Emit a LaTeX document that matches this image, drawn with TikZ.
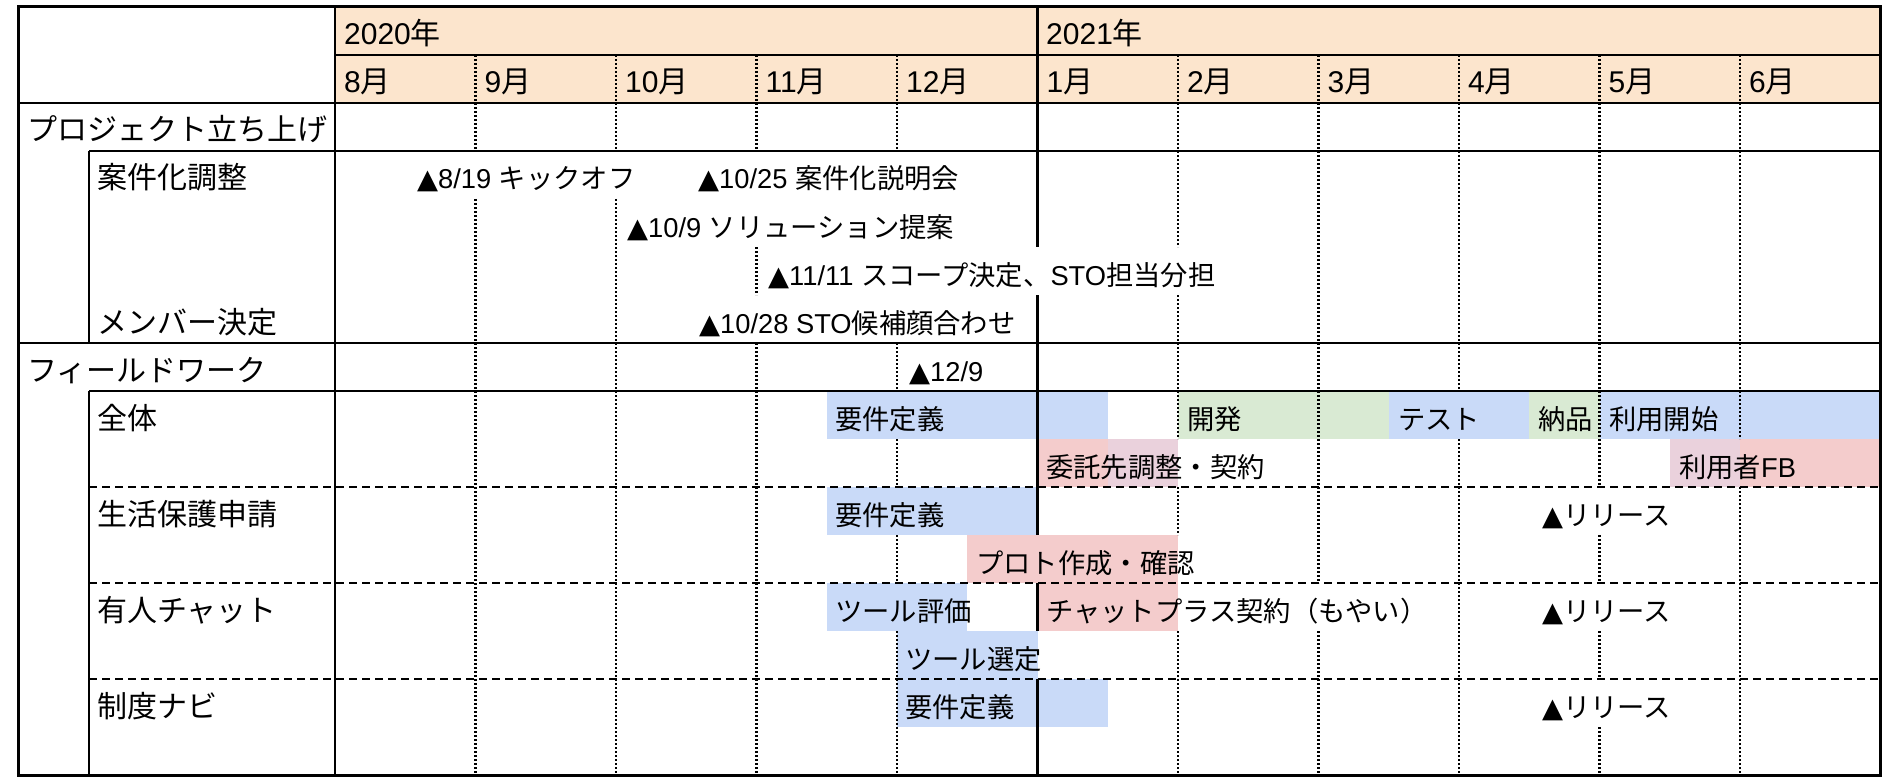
\documentclass[tikz,border=0pt]{standalone}
\usepackage{fontspec}
\setmainfont{Liberation Sans}
\newfontfamily\jp{Noto Sans CJK JP}
\newfontfamily\trifont{DejaVu Sans}
\definecolor{hdr}{HTML}{FCE5CD}
\definecolor{cblue}{HTML}{C9DAF8}
\definecolor{cgreen}{HTML}{D9EAD3}
\definecolor{cpink}{HTML}{F4CCCC}
\definecolor{cmag}{HTML}{EAD1DC}
\newcommand\mtri{{\trifont ▲}}
\newcommand\MX[1]{335+140.5*(#1)}
\newcommand\RT[1]{7+48*(#1)}
\newcommand\BL[1]{45+48*(#1)}
\newcommand\gbar[4]{\fill[#1] (#2,{\RT{#4}}) rectangle (#3,{\RT{#4+1}});}
\begin{document}
\begin{tikzpicture}[x=1pt,y=-1pt,
  txt/.style={anchor=base west, inner sep=0pt, font=\fontsize{30}{36}\selectfont},
  btxt/.style={anchor=base west, inner sep=0pt, font=\fontsize{27.3}{33}\selectfont},
  solidln/.style={line width=2.5pt},
  outerln/.style={line width=3pt},
  dotln/.style={line width=2.2pt, dash pattern=on 2pt off 2pt},
  dashln/.style={line width=2.5pt, dash pattern=on 8pt off 5pt}]
\useasboundingbox (0,0) rectangle (1902,778);
% header fill
\fill[hdr] (335,7) rectangle (1880.5,103);
% bars
\gbar{cblue}{826.5}{1107.5}{8}
\gbar{cgreen}{1178}{1388.5}{8}
\gbar{cblue}{1388.5}{1529}{8}
\gbar{cgreen}{1529}{1599.5}{8}
\gbar{cblue}{1599.5}{1880.5}{8}
\gbar{cpink}{1037.5}{1107.5}{9}
\gbar{cmag}{1107.5}{1178}{9}
\gbar{cmag}{1669.5}{1740}{9}
\gbar{cpink}{1740}{1880.5}{9}
\gbar{cblue}{826.5}{1037.5}{10}
\gbar{cpink}{967}{1178}{11}
\gbar{cblue}{826.5}{967}{12}
\gbar{cpink}{1037.5}{1178}{12}
\gbar{cblue}{897}{1037.5}{13}
\gbar{cblue}{897}{1107.5}{14}
% dotted month lines (with gaps where text overflows)
\foreach \k/\rows in {
  1/{1,2,4,5,6,7,8,9,10,11,12,13,14,15},
  2/{1,2,4,5,6,7,8,9,10,11,12,13,14,15},
  3/{1,2,5,7,8,9,10,11,12,13,14,15},
  4/{1,2,7,9,11,13,14,15},
  6/{1,2,3,4,6,7,8,10,13,14,15},
  7/{1,2,3,4,5,6,7,8,9,10,11,13,14,15},
  8/{1,2,3,4,5,6,7,9,10,11,12,13,14,15},
  9/{1,2,3,4,5,6,7,8,9,11,13,15},
  10/{1,2,3,4,5,6,7,8,10,11,12,13,14,15}}{
  \foreach \r in \rows {
    \draw[dotln] ({\MX{\k}},{\RT{\r}}) -- ({\MX{\k}},{\RT{\r+1}});
  }
}
% dashed horizontals
\foreach \r in {10,12,14} {
  \draw[dashln] (89,{\RT{\r}}) -- (1880.5,{\RT{\r}});
}
% solid lines
\draw[solidln] (335,55) -- (1880.5,55);
\draw[solidln] (18,103) -- (1880.5,103);
\draw[solidln] (89,151) -- (1880.5,151);
\draw[solidln] (18,343) -- (1880.5,343);
\draw[solidln] (89,391) -- (1880.5,391);
\draw[solidln] (335,7) -- (335,775);
\draw[solidln] (89,151) -- (89,343);
\draw[solidln] (89,391) -- (89,775);
\draw[solidln] (1037.5,7) -- (1037.5,247);
\draw[solidln] (1037.5,295) -- (1037.5,535);
\draw[solidln] (1037.5,583) -- (1037.5,631);
\draw[solidln] (1037.5,679) -- (1037.5,775);
\draw[outerln] (18,7) rectangle (1880.5,775);
% header text
\node[txt] (y2020) at (344,{\BL{0}}) {2020{\jp 年}};
\node[txt] (y2021) at (1046,{\BL{0}}) {2021{\jp 年}};
\foreach \k/\m in {0/8,1/9,2/10,3/11,4/12,5/1,6/2,7/3,8/4,9/5,10/6} {
  \node[txt] (m\k) at ({\MX{\k}+9},{\BL{1}}) {\m{\jp 月}};
}
% labels
\node[txt] (l1) at (27,{\BL{2}}) {\jp プロジェクト立ち上げ};
\node[txt] (l2) at (97,{\BL{3}}) {\jp 案件化調整};
\node[txt] (l3) at (97,{\BL{6}}) {\jp メンバー決定};
\node[txt] (l4) at (27,{\BL{7}}) {\jp フィールドワーク};
\node[txt] (l5) at (97,{\BL{8}}) {\jp 全体};
\node[txt] (l6) at (97,{\BL{10}}) {\jp 生活保護申請};
\node[txt] (l7) at (97,{\BL{12}}) {\jp 有人チャット};
\node[txt] (l8) at (97,{\BL{14}}) {\jp 制度ナビ};
% milestones
\node[btxt] (ms1) at (417,{\BL{3}}) {\mtri 8/19 {\jp キックオフ}};
\node[btxt] (ms2) at (698,{\BL{3}}) {\mtri 10/25 {\jp 案件化説明会}};
\node[btxt] (ms3) at (627,{\BL{4}}) {\mtri 10/9 {\jp ソリューション提案}};
\node[btxt] (ms4) at (768,{\BL{5}}) {\mtri 11/11 {\jp スコープ決定、}STO{\jp 担当分担}};
\node[btxt] (ms5) at (699,{\BL{6}}) {\mtri 10/28 STO{\jp 候補顔合わせ}};
\node[btxt] (ms6) at (909,{\BL{7}}) {\mtri 12/9};
% bar texts
\node[btxt] (b1) at (835,{\BL{8}}) {\jp 要件定義};
\node[btxt] (b2) at (1187,{\BL{8}}) {\jp 開発};
\node[btxt] (b3) at (1398,{\BL{8}}) {\jp テスト};
\node[btxt] (b4) at (1538,{\BL{8}}) {\jp 納品};
\node[btxt] (b5) at (1609,{\BL{8}}) {\jp 利用開始};
\node[btxt] (b6) at (1046,{\BL{9}}) {\jp 委託先調整・契約};
\node[btxt] (b7) at (1679,{\BL{9}}) {{\jp 利用者}FB};
\node[btxt] (b8) at (835,{\BL{10}}) {\jp 要件定義};
\node[btxt] (r1) at (1542,{\BL{10}}) {\mtri{\jp リリース}};
\node[btxt] (b9) at (976,{\BL{11}}) {\jp プロト作成・確認};
\node[btxt] (b10) at (835,{\BL{12}}) {\jp ツール評価};
\node[btxt] (b11) at (1046,{\BL{12}}) {\jp チャットプラス契約（もやい）};
\node[btxt] (r2) at (1542,{\BL{12}}) {\mtri{\jp リリース}};
\node[btxt] (b12) at (905,{\BL{13}}) {\jp ツール選定};
\node[btxt] (b13) at (905,{\BL{14}}) {\jp 要件定義};
\node[btxt] (r3) at (1542,{\BL{14}}) {\mtri{\jp リリース}};
\end{tikzpicture}
\end{document}
